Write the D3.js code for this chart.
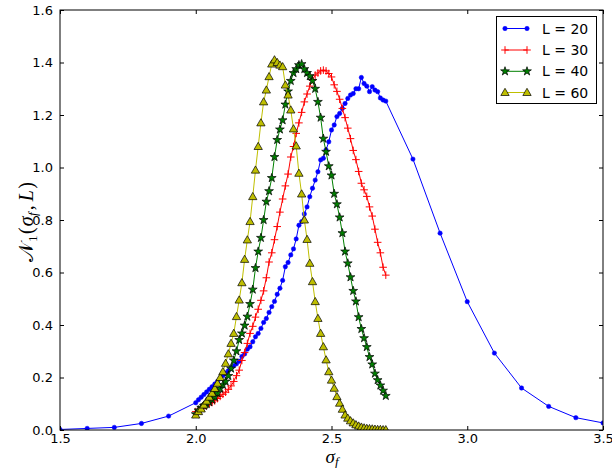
<!DOCTYPE html>
<html>
<head>
<meta charset="utf-8">
<script src="https://cdn.jsdelivr.net/npm/d3@7"></script>
<style>
  html, body { margin: 0; padding: 0; background: #fff; }
  svg { display: block; }
</style>
</head>
<body>
<svg id="chart" width="612" height="468"></svg>
<script>
// ---------------- data ----------------
const xTicks = [1.5, 2.0, 2.5, 3.0, 3.5];
const yTicks = [0.0, 0.2, 0.4, 0.6, 0.8, 1.0, 1.2, 1.4, 1.6];
const seriesNames = ["L = 20", "L = 30", "L = 40", "L = 60"];

// dense sigma grid shared by all series
const sigmaDense = [
  2.00,2.01,2.02,2.03,2.04,2.05,2.06,2.07,2.08,2.09,
  2.10,2.11,2.12,2.13,2.14,2.15,2.16,2.17,2.18,2.19,
  2.20,2.21,2.22,2.23,2.24,2.25,2.26,2.27,2.28,2.29,
  2.30,2.31,2.32,2.33,2.34,2.35,2.36,2.37,2.38,2.39,
  2.40,2.41,2.42,2.43,2.44,2.45,2.46,2.47,2.48,2.49,
  2.50,2.51,2.52,2.53,2.54,2.55,2.56,2.57,2.58,2.59,
  2.60,2.61,2.62,2.63,2.64,2.65,2.66,2.67,2.68,2.69,2.70
];

// L = 20: sparse tails + dense middle
const sigmaL20Low = [1.5, 1.6, 1.7, 1.8, 1.9];
const valL20Low = [0.002, 0.006, 0.010, 0.025, 0.053];
const valL20Dense = [
  0.104,0.115,0.125,0.135,0.145,0.155,0.165,0.175,0.185,0.196,
  0.207,0.217,0.226,0.235,0.245,0.252,0.262,0.280,0.290,0.308,
  0.317,0.336,0.355,0.368,0.387,0.410,0.425,0.448,0.470,0.490,
  0.517,0.540,0.570,0.622,0.638,0.667,0.690,0.728,0.780,0.794,
  0.823,0.850,0.889,0.921,0.952,0.984,1.029,1.035,1.067,1.098,
  1.143,1.162,1.194,1.206,1.225,1.244,1.263,1.276,1.282,1.300,
  1.300,1.343,1.320,1.310,1.289,1.308,1.295,1.289,1.265,1.257,1.253
];
const sigmaL20High = [2.8, 2.9, 3.0, 3.1, 3.2, 3.3, 3.4, 3.5];
const valL20High = [1.032, 0.750, 0.489, 0.293, 0.160, 0.090, 0.047, 0.027];

const valL30 = [
  0.070,0.076,0.083,0.089,0.093,0.100,0.105,0.111,0.120,0.128,
  0.136,0.144,0.155,0.168,0.185,0.207,0.228,0.265,0.295,0.330,
  0.368,0.395,0.430,0.460,0.494,0.530,0.580,0.640,0.675,0.725,
  0.775,0.830,0.880,0.930,0.975,1.040,1.080,1.130,1.170,1.210,
  1.250,1.280,1.310,1.335,1.352,1.360,1.368,1.371,1.368,1.358,
  1.345,1.315,1.290,1.260,1.225,1.190,1.150,1.110,1.065,1.030,
  0.985,0.940,0.915,0.890,0.850,0.815,0.765,0.715,0.675,0.620,0.590
];

const valL40 = [
  0.060,0.075,0.085,0.092,0.099,0.106,0.115,0.126,0.141,0.158,
  0.172,0.185,0.206,0.234,0.265,0.300,0.343,0.368,0.398,0.432,
  0.480,0.535,0.617,0.680,0.732,0.800,0.870,0.910,0.960,1.040,
  1.105,1.145,1.180,1.240,1.290,1.330,1.360,1.375,1.390,1.394,
  1.375,1.360,1.348,1.330,1.300,1.250,1.190,1.110,1.060,1.005,
  0.970,0.900,0.860,0.810,0.750,0.680,0.635,0.582,0.530,0.490,
  0.430,0.385,0.350,0.316,0.278,0.250,0.215,0.190,0.170,0.150,0.130
];

const valL60 = [
  0.057,0.070,0.080,0.095,0.110,0.125,0.140,0.158,0.178,0.200,
  0.222,0.254,0.290,0.330,0.368,0.432,0.495,0.561,0.650,0.724,
  0.794,0.889,0.990,1.080,1.170,1.250,1.295,1.346,1.394,1.410,
  1.400,1.390,1.384,1.314,1.276,1.219,1.147,1.082,0.978,0.899,
  0.800,0.726,0.635,0.565,0.489,0.425,0.368,0.317,0.267,0.222,
  0.190,0.159,0.127,0.102,0.079,0.057,0.045,0.035,0.027,0.020,
  0.015,0.011,0.008,0.006,0.005,0.004,0.003,0.002,0.002,0.001,0.001
];

// ---------------- build ----------------
const zip = (xs, ys) => xs.map((s, i) => ({ s, v: ys[i] }));
const dataL20 = zip(sigmaL20Low, valL20Low)
  .concat(zip(sigmaDense, valL20Dense))
  .concat(zip(sigmaL20High, valL20High));
const series = [
  { name: seriesNames[0], data: dataL20, color: "#0000ff", marker: "dot" },
  { name: seriesNames[1], data: zip(sigmaDense, valL30), color: "#ff0000", marker: "plus" },
  { name: seriesNames[2], data: zip(sigmaDense, valL40), color: "#008000", marker: "star" },
  { name: seriesNames[3], data: zip(sigmaDense, valL60), color: "#bfbf00", marker: "tri" }
];

const L = 60, R = 603, T = 10, B = 430;
const x = d3.scaleLinear().domain([1.5, 3.5]).range([L, R]);
const y = d3.scaleLinear().domain([0, 1.6]).range([B, T]);

const svg = d3.select("#chart");
svg.append("rect").attr("width", 612).attr("height", 468).attr("fill", "#fff");

svg.append("defs").append("clipPath").attr("id", "plotclip")
  .append("rect").attr("x", L).attr("y", T).attr("width", R - L).attr("height", B - T);

const starPath = d3.symbol().type(d3.symbolStar).size(24)();
const triPath = d3.symbol().type(d3.symbolTriangle).size(30)();

function drawMarker(g, type, color) {
  if (type === "dot") {
    g.append("circle").attr("r", 2.2).attr("fill", color).attr("stroke", color).attr("stroke-width", 0.5);
  } else if (type === "plus") {
    g.append("path").attr("d", "M-3.8,0H3.8M0,-3.8V3.8").attr("stroke", color).attr("stroke-width", 1).attr("fill", "none");
  } else if (type === "star") {
    g.append("path").attr("d", starPath).attr("fill", color).attr("stroke", "#000").attr("stroke-width", 0.7);
  } else if (type === "tri") {
    g.append("path").attr("d", triPath).attr("transform", "translate(0,0.6)")
      .attr("fill", color).attr("stroke", "#000").attr("stroke-width", 0.7);
  }
}

const plot = svg.append("g").attr("clip-path", "url(#plotclip)");
const line = d3.line().x(d => x(d.s)).y(d => y(d.v));

series.forEach(sr => {
  const g = plot.append("g");
  g.append("path").datum(sr.data).attr("d", line)
    .attr("fill", "none").attr("stroke", sr.color).attr("stroke-width", 1);
  g.selectAll("g.m").data(sr.data).join("g").attr("class", "m")
    .attr("transform", d => `translate(${x(d.s)},${y(d.v)})`)
    .each(function () { drawMarker(d3.select(this), sr.marker, sr.color); });
});

// frame
svg.append("rect").attr("x", L).attr("y", T).attr("width", R - L).attr("height", B - T)
  .attr("fill", "none").attr("stroke", "#000").attr("stroke-width", 1);

// axes (ticks pointing inward, on all four sides)
const fmt = d3.format(".1f");
const axB = svg.append("g").attr("transform", `translate(0,${B})`)
  .call(d3.axisBottom(x).tickValues(xTicks).tickFormat(fmt).tickSize(-4).tickPadding(4));
const axT = svg.append("g").attr("transform", `translate(0,${T})`)
  .call(d3.axisTop(x).tickValues(xTicks).tickFormat("").tickSize(-4));
const axL = svg.append("g").attr("transform", `translate(${L},0)`)
  .call(d3.axisLeft(y).tickValues(yTicks).tickFormat(fmt).tickSize(-4).tickPadding(7));
const axR = svg.append("g").attr("transform", `translate(${R},0)`)
  .call(d3.axisRight(y).tickValues(yTicks).tickFormat("").tickSize(-4));
[axB, axT, axL, axR].forEach(a => {
  a.select(".domain").remove();
  a.attr("font-family", "DejaVu Sans").attr("font-size", 13);
  a.selectAll("line").attr("stroke", "#000");
  a.selectAll("text").attr("fill", "#000");
});

// piecewise math-like label laid out with measured widths
function mathLabel(parent, pieces) {
  const g = parent.append("g");
  let cx = 0;
  pieces.forEach(p => {
    const t = g.append("text").attr("x", cx).attr("y", p.dy || 0)
      .attr("font-family", p.font || "Liberation Serif").attr("font-size", p.size)
      .attr("font-style", p.italic ? "italic" : "normal").attr("fill", "#000").text(p.t);
    cx += t.node().getComputedTextLength() + (p.gap || 0);
  });
  g.selectAll("text").attr("transform", `translate(${-cx / 2},0)`);
  return g;
}

// x label
const xlg = svg.append("g").attr("transform", "translate(332,463)");
mathLabel(xlg, [
  { t: "σ", size: 19, italic: true, gap: 0 },
  { t: "f", size: 13, italic: true, dy: 3 }
]);

// y label (rotated)
const ylg = svg.append("g").attr("transform", "translate(33,222) rotate(-90)");
mathLabel(ylg, [
  { t: "𝒩", size: 20, italic: false, gap: 1 },
  { t: "1", size: 13, dy: 4, gap: 1.5 },
  { t: "(", size: 20, gap: 1 },
  { t: "σ", size: 20, italic: true, gap: 0.5 },
  { t: "f", size: 13, italic: true, dy: 4, gap: 2 },
  { t: ",", size: 20, gap: 4 },
  { t: "L", size: 20, italic: true, gap: 1.5 },
  { t: ")", size: 20 }
]);

// legend
const lg = svg.append("g");
lg.append("rect").attr("x", 496.5).attr("y", 16.5).attr("width", 100).attr("height", 87)
  .attr("fill", "#fff").attr("stroke", "#000").attr("stroke-width", 1);
const legY = [28.5, 50, 71.3, 92.5];
series.forEach((sr, i) => {
  const g = lg.append("g").attr("transform", `translate(0,${legY[i]})`);
  g.append("line").attr("x1", 505).attr("x2", 527).attr("y1", 0).attr("y2", 0)
    .attr("stroke", sr.color).attr("stroke-width", 1);
  [505, 527].forEach(px => {
    const m = g.append("g").attr("transform", `translate(${px},0)`);
    drawMarker(m, sr.marker, sr.color);
  });
  g.append("text").attr("x", 542).attr("y", 0).attr("dy", "0.36em")
    .attr("font-family", "DejaVu Sans").attr("font-size", 14).attr("fill", "#000").text(sr.name);
});
</script>
</body>
</html>
